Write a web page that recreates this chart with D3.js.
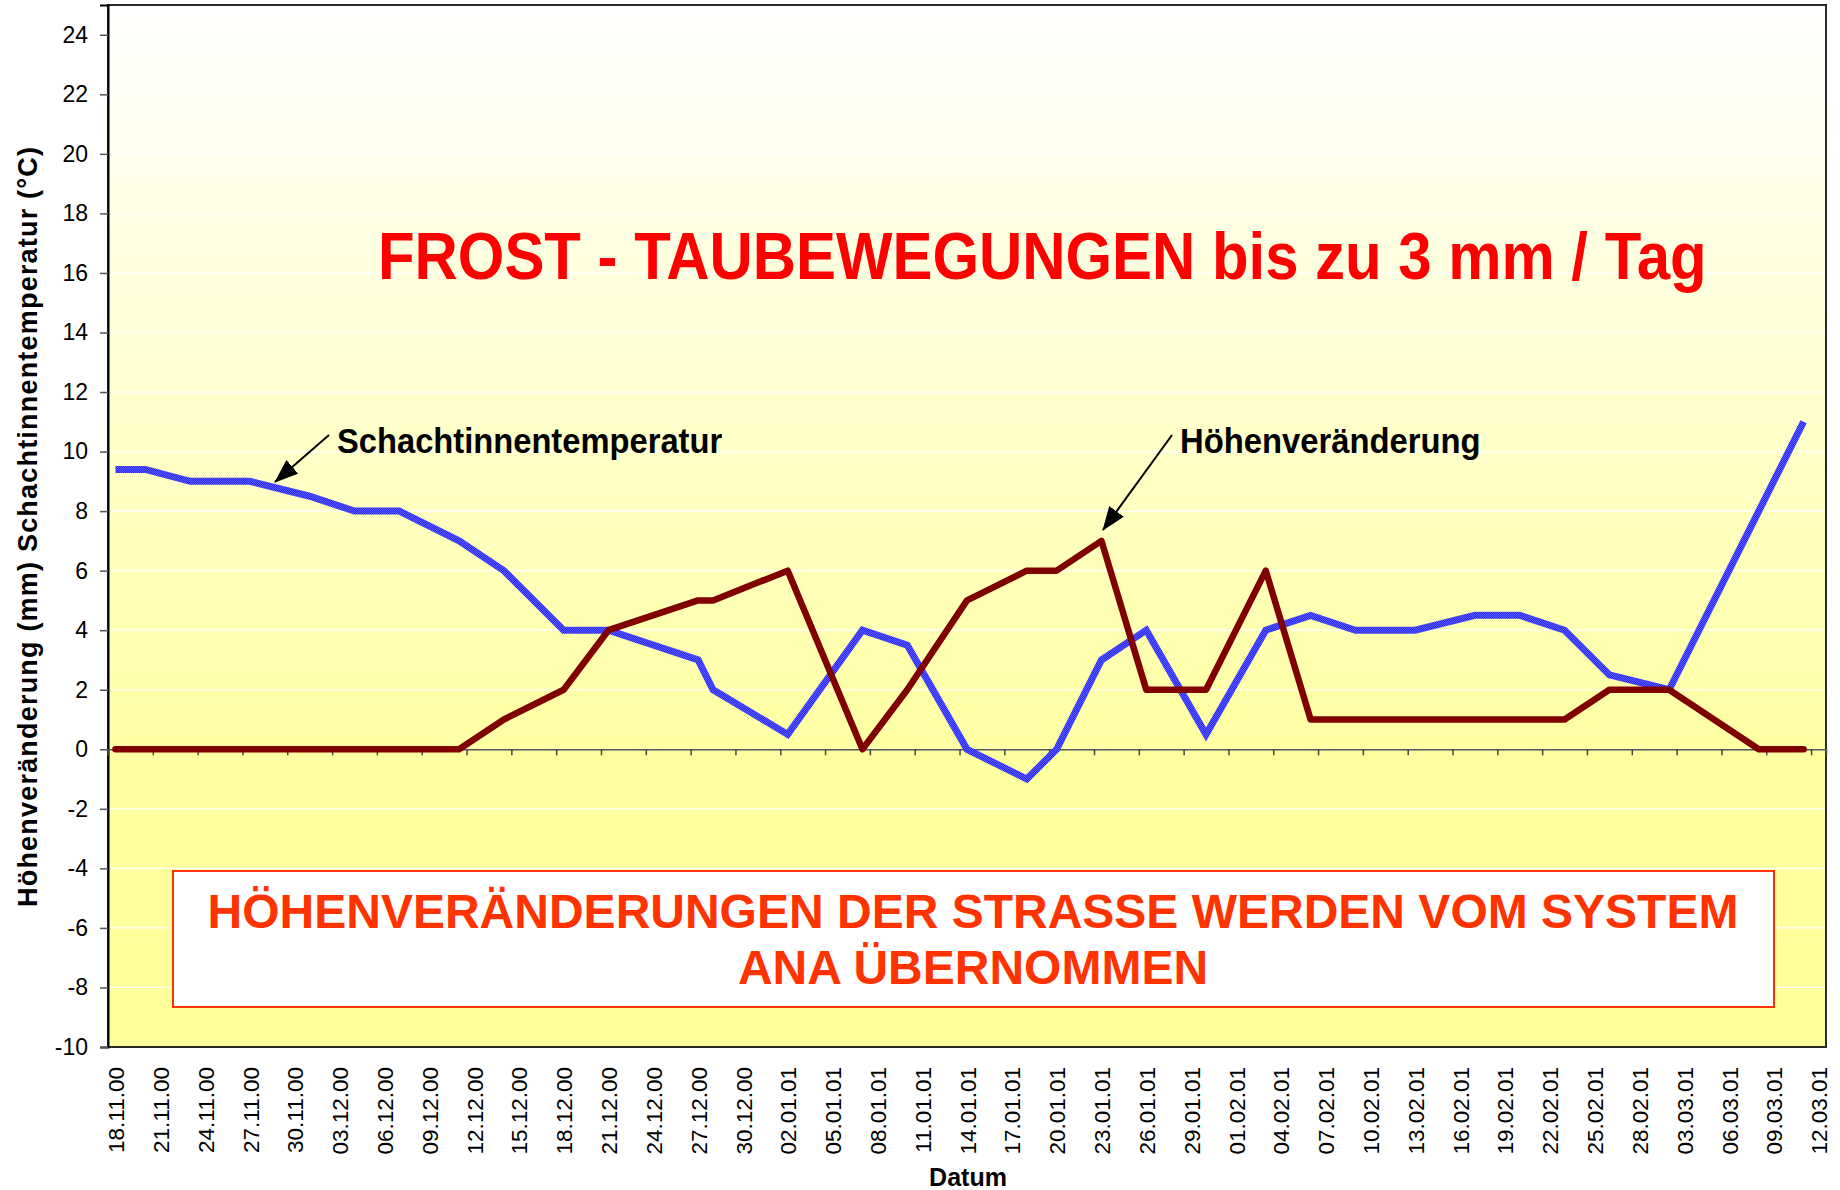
<!DOCTYPE html>
<html>
<head>
<meta charset="utf-8">
<script src="https://cdn.jsdelivr.net/npm/d3@7"></script>
<style>
  body { margin: 0; background: #fff; }
  svg { display: block; font-family: 'Liberation Sans', Arial, sans-serif; }
</style>
</head>
<body>
<div id="chart"></div>
<script>
// Messtage
const dates = ['18.11.00', '20.11.00', '23.11.00', '27.11.00', '01.12.00', '04.12.00', '07.12.00',
  '11.12.00', '14.12.00', '18.12.00', '21.12.00', '27.12.00', '28.12.00', '02.01.01', '07.01.01',
  '10.01.01', '14.01.01', '18.01.01', '20.01.01', '23.01.01', '26.01.01', '30.01.01', '03.02.01',
  '06.02.01', '09.02.01', '13.02.01', '17.02.01', '20.02.01', '23.02.01', '26.02.01', '02.03.01',
  '08.03.01', '11.03.01']

// Schachtinnentemperatur (°C)
const temperatur = [9.4, 9.4, 9.0, 9.0, 8.5, 8.0, 8.0, 7.0, 6.0, 4.0, 4.0, 3.0, 2.0, 0.5, 4.0,
  3.5, 0.0, -1.0, 0.0, 3.0, 4.0, 0.5, 4.0, 4.5, 4.0, 4.0, 4.5, 4.5, 4.0, 2.5, 2.0, 8.0, 11.0]

// Höhenveränderung (mm)
const hoehe = [0, 0, 0, 0, 0, 0, 0, 0, 1, 2, 4, 5, 5, 6, 0, 2, 5, 6, 6, 7, 2, 2, 6, 1, 1, 1, 1,
  1, 1, 2, 2, 0, 0]

const xTickLabels = ['18.11.00', '21.11.00', '24.11.00', '27.11.00', '30.11.00', '03.12.00',
  '06.12.00', '09.12.00', '12.12.00', '15.12.00', '18.12.00', '21.12.00', '24.12.00', '27.12.00',
  '30.12.00', '02.01.01', '05.01.01', '08.01.01', '11.01.01', '14.01.01', '17.01.01', '20.01.01',
  '23.01.01', '26.01.01', '29.01.01', '01.02.01', '04.02.01', '07.02.01', '10.02.01', '13.02.01',
  '16.02.01', '19.02.01', '22.02.01', '25.02.01', '28.02.01', '03.03.01', '06.03.01', '09.03.01',
  '12.03.01']

const yTicks = [-10, -8, -6, -4, -2, 0, 2, 4, 6, 8, 10, 12, 14, 16, 18, 20, 22, 24]

const W = 1840
const H = 1190
const plot = { left: 108, right: 1826, top: 5, bottom: 1047 }

const parse = d3.timeParse('%d.%m.%y')
const start = parse(xTickLabels[0])
const dayOf = s => d3.timeDay.count(start, parse(s))
const lastDay = dayOf(xTickLabels[xTickLabels.length - 1])

const x = d3.scaleLinear().domain([-0.5, lastDay + 0.5]).range([plot.left, plot.right])
const y = d3.scaleLinear().domain([-10, 25]).range([plot.bottom, plot.top])

const svg = d3.select('#chart').append('svg')
  .attr('width', W)
  .attr('height', H)

const defs = svg.append('defs')

const grad = defs.append('linearGradient')
  .attr('id', 'bg')
  .attr('x1', 0).attr('y1', 0).attr('x2', 0).attr('y2', 1)
grad.append('stop').attr('offset', '0%').attr('stop-color', '#ffffff')
grad.append('stop').attr('offset', '72%').attr('stop-color', '#ffffa2')
grad.append('stop').attr('offset', '100%').attr('stop-color', '#ffff99')

const pat = defs.append('pattern')
  .attr('id', 'blueTex')
  .attr('width', 2).attr('height', 2)
  .attr('patternUnits', 'userSpaceOnUse')
pat.append('rect').attr('width', 2).attr('height', 2).attr('fill', '#2626ff')
pat.append('rect').attr('width', 1).attr('height', 1).attr('fill', '#5c5cff')
pat.append('rect').attr('x', 1).attr('y', 1).attr('width', 1).attr('height', 1).attr('fill', '#5c5cff')

defs.append('marker')
  .attr('id', 'arrow')
  .attr('markerUnits', 'userSpaceOnUse')
  .attr('viewBox', '0 0 24 18')
  .attr('markerWidth', 24).attr('markerHeight', 18)
  .attr('refX', 23).attr('refY', 9)
  .attr('orient', 'auto')
  .append('path')
  .attr('d', 'M0,0 L24,9 L0,18 Z')
  .attr('fill', '#000')

// plot area
svg.append('rect')
  .attr('x', plot.left).attr('y', plot.top)
  .attr('width', plot.right - plot.left)
  .attr('height', plot.bottom - plot.top)
  .attr('fill', 'url(#bg)')

// gridlines
svg.append('g')
  .selectAll('line')
  .data(yTicks)
  .join('line')
  .attr('x1', plot.left).attr('x2', plot.right)
  .attr('y1', d => y(d)).attr('y2', d => y(d))
  .attr('stroke', '#ffffff')
  .attr('stroke-width', 1.2)

svg.append('rect')
  .attr('x', plot.left).attr('y', plot.top)
  .attr('width', plot.right - plot.left)
  .attr('height', plot.bottom - plot.top)
  .attr('fill', 'none')
  .attr('stroke', '#2a2a2a')
  .attr('stroke-width', 2)

// y axis
const yAxis = svg.append('g')
  .attr('transform', `translate(${plot.left}, 0)`)
  .call(d3.axisLeft(y).tickValues(yTicks).tickSize(8).tickPadding(12).tickFormat(d => String(d)))
yAxis.select('.domain').attr('stroke', '#000').attr('stroke-width', 2)
yAxis.selectAll('.tick line').attr('stroke', '#555').attr('stroke-width', 1.5)
yAxis.selectAll('text').attr('font-size', 23).attr('fill', '#000')
  .attr('font-family', "'Liberation Sans', Arial, sans-serif")

// category axis at zero with ticks every 3 days
const tickDays = xTickLabels.map(dayOf)
const zeroAxis = svg.append('g')
  .attr('transform', `translate(0, ${y(0)})`)
  .call(d3.axisBottom(x).tickValues(tickDays.map(d => d - 0.5)).tickSize(6).tickFormat(''))
zeroAxis.select('.domain').attr('stroke', '#555').attr('stroke-width', 1.5)
zeroAxis.selectAll('.tick line').attr('stroke', '#444').attr('stroke-width', 1.5)

// date labels
const xAxis = svg.append('g')
  .attr('transform', `translate(0, ${plot.bottom})`)
  .call(d3.axisBottom(x).tickValues(tickDays).tickSize(0)
    .tickFormat((d, i) => xTickLabels[i]))
xAxis.select('.domain').remove()
xAxis.selectAll('text')
  .attr('transform', 'rotate(-90)')
  .attr('x', -20)
  .attr('y', 0)
  .attr('dy', '0.36em')
  .attr('font-size', 22.5)
  .attr('fill', '#000')
  .attr('font-family', "'Liberation Sans', Arial, sans-serif")
  .style('text-anchor', 'end')

// series
const tempData = dates.map((d, i) => ({ day: dayOf(d), v: temperatur[i] }))
const hoeheData = dates.map((d, i) => ({ day: dayOf(d), v: hoehe[i] }))
const line = d3.line().x(d => x(d.day)).y(d => y(d.v))

svg.append('path')
  .datum(tempData)
  .attr('d', line)
  .attr('fill', 'none')
  .attr('stroke', 'url(#blueTex)')
  .attr('stroke-width', 7)
  .attr('stroke-linejoin', 'miter')

svg.append('path')
  .datum(hoeheData)
  .attr('d', line)
  .attr('fill', 'none')
  .attr('stroke', '#800000')
  .attr('stroke-width', 6.5)
  .attr('stroke-linejoin', 'round')
  .attr('stroke-linecap', 'round')

// titles
svg.append('text')
  .text('Höhenveränderung (mm) Schachtinnentemperatur (°C)')
  .attr('transform', 'translate(37, 527) rotate(-90)')
  .attr('text-anchor', 'middle')
  .attr('font-size', 27)
  .attr('font-weight', 'bold')
  .attr('textLength', 760)
  .attr('lengthAdjust', 'spacing')

svg.append('text')
  .text('Datum')
  .attr('x', 968).attr('y', 1186)
  .attr('text-anchor', 'middle')
  .attr('font-size', 25)
  .attr('font-weight', 'bold')

// narrow, tall lettering: natural width at the smaller size, stretched vertically
svg.append('text')
  .text('FROST - TAUBEWEGUNGEN bis zu 3 mm / Tag')
  .attr('transform', 'translate(378, 279) scale(1, 1.10)')
  .attr('font-size', 59.9)
  .attr('font-weight', 'bold')
  .attr('fill', '#ff0000')

// series annotations
svg.append('text')
  .text('Schachtinnentemperatur')
  .attr('transform', 'translate(337, 453) scale(1, 1.07)')
  .attr('font-size', 32.7)
  .attr('font-weight', 'bold')

svg.append('line')
  .attr('x1', 329).attr('y1', 435).attr('x2', 275).attr('y2', 482)
  .attr('stroke', '#000').attr('stroke-width', 2)
  .attr('marker-end', 'url(#arrow)')

svg.append('text')
  .text('Höhenveränderung')
  .attr('transform', 'translate(1180, 453) scale(1, 1.07)')
  .attr('font-size', 32.8)
  .attr('font-weight', 'bold')

svg.append('line')
  .attr('x1', 1172).attr('y1', 435).attr('x2', 1103).attr('y2', 530)
  .attr('stroke', '#000').attr('stroke-width', 2)
  .attr('marker-end', 'url(#arrow)')

// note box
svg.append('rect')
  .attr('x', 173).attr('y', 871)
  .attr('width', 1601).attr('height', 136)
  .attr('fill', '#ffffff')
  .attr('stroke', '#ff3300')
  .attr('stroke-width', 2)

const note = svg.append('text')
  .attr('text-anchor', 'middle')
  .attr('font-size', 48)
  .attr('font-weight', 'bold')
  .attr('fill', '#ff3300')
note.append('tspan').attr('x', 973).attr('y', 928)
  .text('HÖHENVERÄNDERUNGEN DER STRASSE WERDEN VOM SYSTEM')
note.append('tspan').attr('x', 973).attr('y', 984)
  .text('ANA ÜBERNOMMEN')
</script>
</body>
</html>
